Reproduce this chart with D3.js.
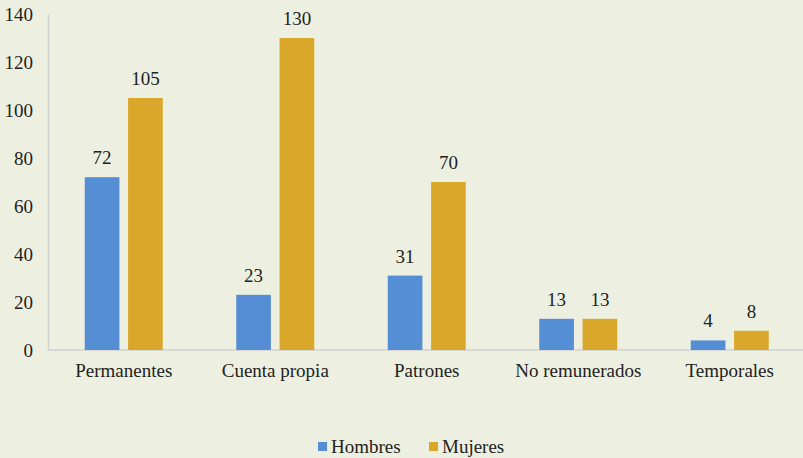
<!DOCTYPE html>
<html>
<head>
<meta charset="utf-8">
<script src="https://cdn.jsdelivr.net/npm/d3@7"></script>
</head>
<body style="margin:0;background:#edf0e1">
<svg width="803" height="458" font-family="Liberation Serif"></svg>
<script>
const width = 803;
const height = 458;

const categories = ['Permanentes', 'Cuenta propia', 'Patrones', 'No remunerados', 'Temporales'];
const series = ['Hombres', 'Mujeres'];
const hombres = [72, 23, 31, 13, 4];
const mujeres = [105, 130, 70, 13, 8];
const yTicks = [0, 20, 40, 60, 80, 100, 120, 140];
const colors = ['#558ed5', '#d9a82a'];

const margin = {top: 14, right: 0, bottom: 108, left: 48};
const fontSize = 19;

const svg = d3.select('svg');

svg.append('rect')
    .attr('width', width).attr('height', height)
    .attr('fill', '#edf0e1');

const x = d3.scaleBand()
    .domain(categories)
    .range([margin.left, margin.left + 5 * 151.5]);

const y = d3.scaleLinear()
    .domain([0, 140])
    .range([height - margin.bottom, margin.top]);

const x1 = d3.scaleBand()
    .domain(series)
    .range([0, 78])
    .paddingInner(0.2);

const rows = categories.map((c, i) => ({category: c, values: [hombres[i], mujeres[i]]}));

function serifText(sel) {
    sel.attr('font-size', fontSize)
        .attr('fill', '#222')
        .attr('font-family', 'Liberation Serif')
        .style('font-family', 'Times New Roman');
}

// y axis
const yAxis = svg.append('g')
    .attr('transform', `translate(${margin.left},0)`)
    .call(d3.axisLeft(y).tickValues(yTicks).tickSize(0).tickPadding(15))
    .attr('font-family', 'Liberation Serif');
yAxis.select('.domain').attr('stroke', '#d0d0d0').attr('stroke-width', 1.5);
yAxis.selectAll('text').call(serifText);

// x axis
const xAxis = svg.append('g')
    .attr('transform', `translate(0,${y(0)})`)
    .call(d3.axisBottom(x).tickSize(0).tickPadding(14))
    .attr('font-family', 'Liberation Serif');
xAxis.select('.domain').attr('stroke', '#d0d0d0').attr('stroke-width', 1.5)
    .attr('d', `M${margin.left},0H${width}`);
xAxis.selectAll('text').call(serifText);

const groups = svg.append('g').selectAll('g')
    .data(rows)
    .join('g')
    .attr('transform', d => `translate(${x(d.category) + x.bandwidth() / 2 - 39},0)`);

groups.selectAll('rect')
    .data(d => d.values.map((v, i) => ({key: series[i], value: v, i})))
    .join('rect')
    .attr('x', d => x1(d.key))
    .attr('width', x1.bandwidth())
    .attr('y', d => y(d.value))
    .attr('height', d => y(0) - y(d.value))
    .attr('fill', d => colors[d.i]);

groups.selectAll('text')
    .data(d => d.values.map((v, i) => ({key: series[i], value: v, i})))
    .join('text')
    .attr('x', d => x1(d.key) + x1.bandwidth() / 2)
    .attr('y', d => y(d.value) - 13)
    .attr('text-anchor', 'middle')
    .call(serifText)
    .text(d => d.value);

// legend
const legend = svg.append('g').attr('transform', 'translate(318,447)');
const legendX = [0, 111];
series.forEach((s, i) => {
    const g = legend.append('g').attr('transform', `translate(${legendX[i]},0)`);
    g.append('rect').attr('x', 0).attr('y', -5).attr('width', 9).attr('height', 9).attr('fill', colors[i]);
    g.append('text').attr('x', 13).attr('y', 6).call(serifText).text(s);
});
</script>
</body>
</html>
